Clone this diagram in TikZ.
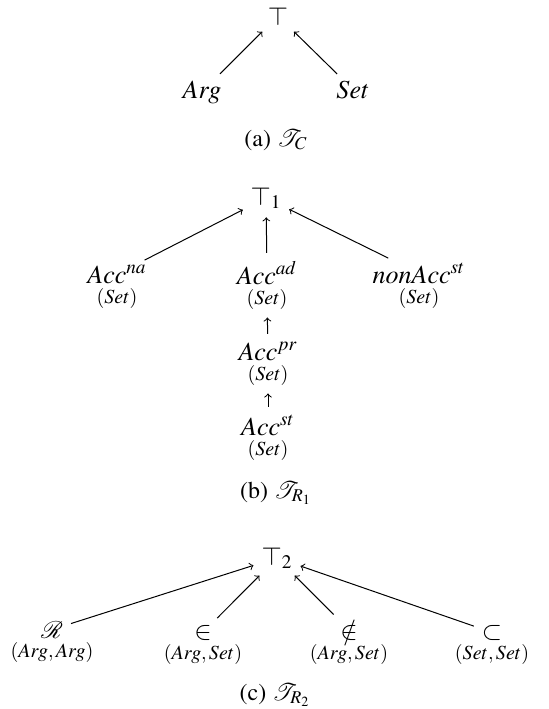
\documentclass[tikz,border=0pt]{standalone}
\usepackage[T1]{fontenc}
\usepackage{mathptmx}
\usepackage{mathrsfs}
\usetikzlibrary{arrows}

\begin{document}
\begin{tikzpicture}[x=0.5pt,y=-0.5pt,
    lbl/.style={anchor=base,inner sep=1pt,font=\fontsize{13}{15}\selectfont},
    typ/.style={inner sep=1pt,font=\fontsize{10}{12}\selectfont},
    capt/.style={anchor=base,font=\fontsize{12}{14}\selectfont},
    arr/.style={->,line width=0.5pt,shorten <=3pt,shorten >=3pt}]

    \useasboundingbox (0,0) rectangle (548,709);

    % (a) the two base types
    \node[lbl] (topa) at (278,25) {$\top$};
    \node[lbl] (arg) at (202,98) {$Arg$};
    \node[lbl] (set) at (353,98) {$Set$};
    \node[capt] (capa) at (276,146) {(a) $\mathscr{T}_C$};

    \foreach \from in {arg,set}
        \draw[arr] (\from) -- (topa);

    % (b) the unary relations
    \node[lbl] (topb) at (266,205) {$\top_1$};
    \node[lbl,label={[typ,name=naset]below:$(Set)$}] (accna) at (117,283) {$Acc^{na}$};
    \node[lbl,label={[typ,name=adset]below:$(Set)$}] (accad) at (267,284) {$Acc^{ad}$};
    \node[lbl,label={[typ,name=nonset]below:$(Set)$}] (nonacc) at (419,283) {$nonAcc^{st}$};
    \node[lbl,label={[typ,name=prset]below:$(Set)$}] (accpr) at (268,360) {$Acc^{pr}$};
    \node[lbl,label={[typ,name=stset]below:$(Set)$}] (accst) at (268,435) {$Acc^{st}$};
    \node[capt] (capb) at (276,498) {(b) $\mathscr{T}_{R_1}$};

    \foreach \from in {accna,accad,nonacc}
        \draw[arr] (\from) -- (topb);
    \draw[arr] (accpr) -- (adset);
    \draw[arr] (accst) -- (prset);

    % (c) the binary relations
    \node[lbl] (topc) at (277,565) {$\top_2$};
    \node[lbl,label={[typ]below:$(Arg,Arg)$}] (rel) at (52,638) {$\mathscr{R}$};
    \node[lbl,label={[typ]below:$(Arg,Set)$}] (elem) at (203,639) {$\in$};
    \node[lbl,label={[typ]below:$(Arg,Set)$}] (notelem) at (349,639) {$\notin$};
    \node[lbl,label={[typ]below:$(Set,Set)$}] (subset) at (492,639) {$\subset$};
    \node[capt] (capc) at (275,700) {(c) $\mathscr{T}_{R_2}$};

    \foreach \from in {rel,elem,notelem,subset}
        \draw[arr] (\from) -- (topc);
\end{tikzpicture}
\end{document}
